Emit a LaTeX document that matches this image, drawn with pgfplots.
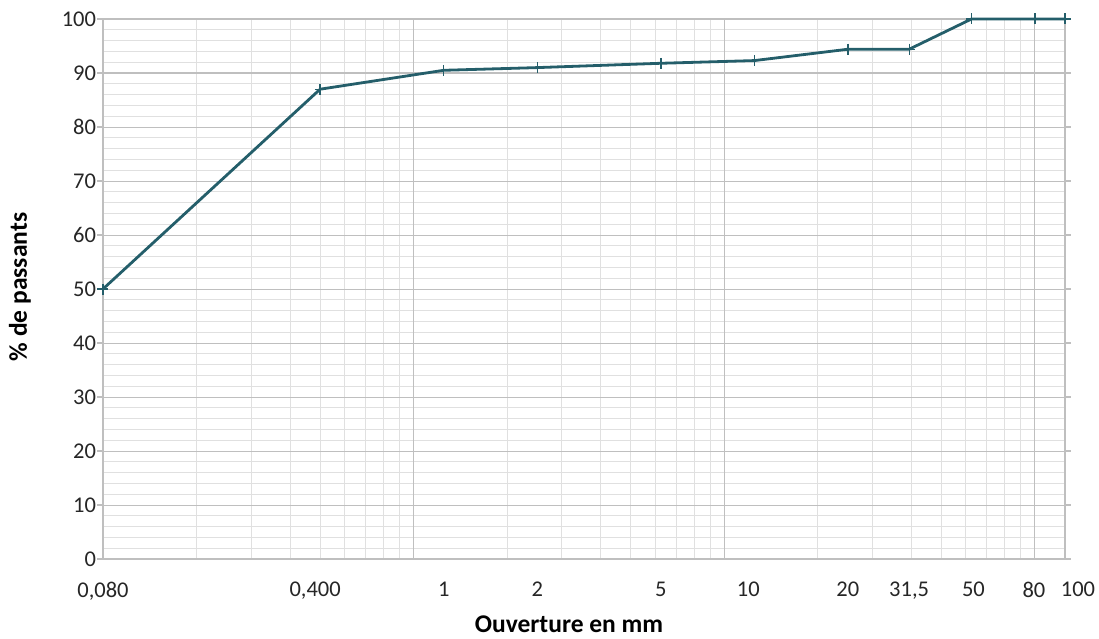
\documentclass[border=0pt]{standalone}
\usepackage{pgfplots}
\pgfplotsset{compat=1.18}
\usepackage{fontspec}
\setmainfont{Carlito}
\definecolor{courbe}{RGB}{36,94,106}
\definecolor{majgrid}{RGB}{191,191,191}
\definecolor{mingrid}{RGB}{224,224,224}
\begin{document}
\begin{tikzpicture}
\begin{axis}[
  scale only axis,
  width=962pt, height=540pt,
  xmode=log, log basis x=10,
  xmin=0.08, xmax=100, ymin=0, ymax=100,
  clip=false,
  axis line style={draw=majgrid, line width=1.2pt},
  xtick={0.08,0.4,1,2,5,10,20,31.5,50,80,100},
  xticklabels={{0,080},{\makebox[0pt]{0,400\hspace*{10pt}}},1,2,5,{\makebox[0pt]{10\hspace*{12pt}}},20,{31,5},{\makebox[0pt]{\hspace*{4pt}50}},{\makebox[0pt]{80\hspace*{2pt}}},{\makebox[0pt]{\hspace*{26pt}100}}},
  xmajorgrids=false,
  minor xtick={0.16,0.24,0.32,0.4,0.48,0.56,0.64,0.72,1.6,2.4,3.2,4,4.8,5.6,6.4,7.2,16,24,32,40,48,56,64,72},
  xminorgrids=true,
  extra x ticks={0.8,8,80},
  extra x tick labels={},
  extra x tick style={xmajorgrids=true, major tick length=0pt},
  x tick style={draw=none},
  ytick={0,10,...,100},
  minor y tick num=4,
  ymajorgrids=true, yminorgrids=true,
  y tick style={draw=majgrid, line width=1.2pt},
  minor y tick style={draw=none},
  tick align=outside,
  major tick length=6pt,
  major grid style={draw=majgrid, line width=1pt},
  minor grid style={draw=mingrid, line width=1pt},
  tick label style={font=\fontsize{22.5}{27}\selectfont, text=black!85},
  yticklabel style={xshift=2.5pt},
  xticklabel style={yshift=-13.5pt},
  /pgf/number format/assume math mode=true,
  xlabel={Ouverture en mm},
  ylabel={\% de passants},
  label style={font=\bfseries\fontsize{25.5}{30}\selectfont, inner sep=0pt},
  xlabel style={at={(axis description cs:0.4844,-0.1204)}, anchor=center},
  ylabel style={at={(axis description cs:-0.0863,0.5037)}, anchor=center},
]
\addplot[color=courbe, line width=2.8pt, mark=+, mark size=5.5pt,
  mark options={line width=1.3pt, solid}] coordinates {
  (0.08,50) (0.4,87) (1,90.5) (2,91) (5,91.8) (10,92.3)
  (20,94.4) (31.5,94.4) (50,100) (80,100) (100,100)
};
\end{axis}
\path (current axis.south west) ++(-103pt,-79pt) rectangle ++(1099pt,638pt);
\end{tikzpicture}
\end{document}
